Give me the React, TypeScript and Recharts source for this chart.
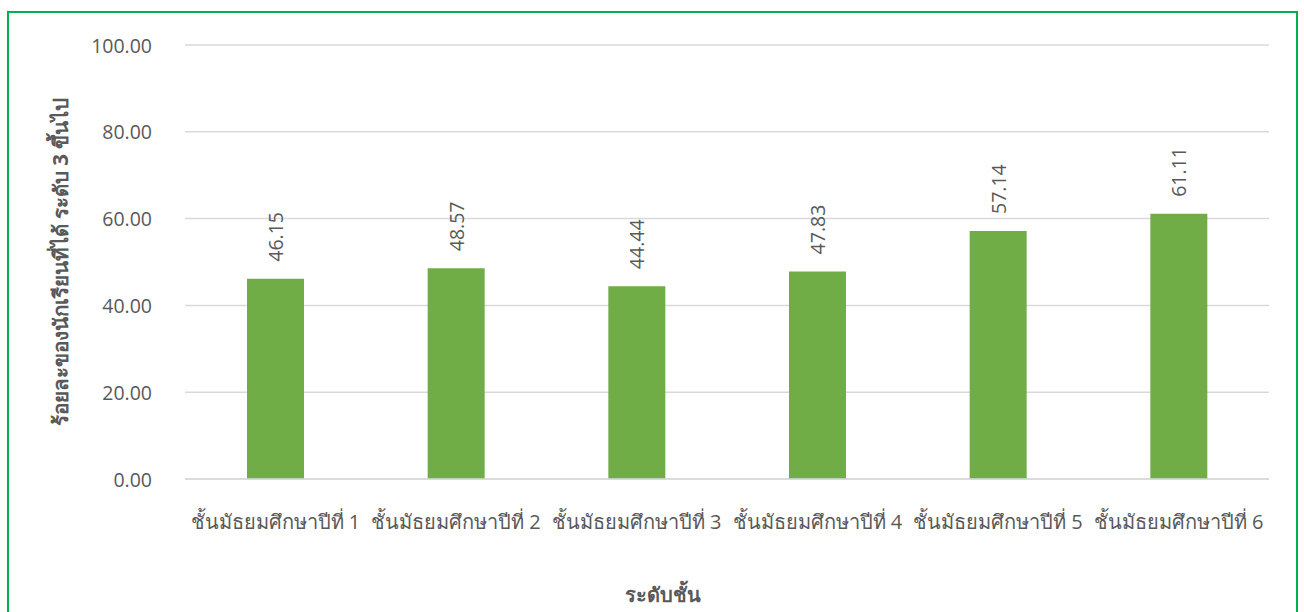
import { Bar, BarChart, CartesianGrid, LabelList, XAxis, YAxis } from 'recharts'

const grades = [
  'ชั้นมัธยมศึกษาปีที่ 1',
  'ชั้นมัธยมศึกษาปีที่ 2',
  'ชั้นมัธยมศึกษาปีที่ 3',
  'ชั้นมัธยมศึกษาปีที่ 4',
  'ชั้นมัธยมศึกษาปีที่ 5',
  'ชั้นมัธยมศึกษาปีที่ 6',
]
const percents = [46.15, 48.57, 44.44, 47.83, 57.14, 61.11]
const yTicks = [0, 20, 40, 60, 80, 100]

const yTitle = 'ร้อยละของนักเรียนที่ได้ ระดับ 3 ขึ้นไป'
const xTitle = 'ระดับชั้น'

const FONT = '"Open Sans", "Noto Sans", "DejaVu Sans", sans-serif'
const TEXT = '#595959'

const data = grades.map((grade, i) => ({ grade, value: percents[i] }))

function YTick({ x, y, payload }: any) {
  return (
    <text x={x - 25} y={y} textAnchor="end" dominantBaseline="central" fill={TEXT} fontSize={19.5} fontFamily={FONT}>
      {Number(payload.value).toFixed(2)}
    </text>
  )
}

function XTick({ x, y, payload }: any) {
  return (
    <text x={x} y={y + 42} textAnchor="middle" fill={TEXT} fontSize={20} fontFamily={FONT}>
      {payload.value}
    </text>
  )
}

function ValueLabel({ x, y, width, value }: any) {
  const cx = x + width / 2
  const ty = y - 17
  return (
    <text
      x={cx}
      y={ty}
      transform={`rotate(-90 ${cx} ${ty})`}
      textAnchor="start"
      dominantBaseline="central"
      fill={TEXT}
      fontSize={19.5}
      fontFamily={FONT}
    >
      {Number(value).toFixed(2)}
    </text>
  )
}

export default function App() {
  return (
    <div style={{ position: 'absolute', left: 0, top: 0, width: 1304, height: 612, background: '#fff', overflow: 'hidden' }}>
      <div
        style={{
          position: 'absolute',
          left: 7,
          top: 11,
          width: 1291,
          height: 640,
          border: '2px solid #00B050',
          boxSizing: 'border-box',
        }}
      />
      <BarChart
        width={1304}
        height={612}
        data={data}
        margin={{ top: 45, right: 35, left: 0, bottom: 0 }}
        style={{ position: 'absolute', left: 0, top: 0 }}
      >
        <CartesianGrid vertical={false} stroke="#D9D9D9" strokeWidth={1.5} />
        <XAxis
          dataKey="grade"
          axisLine={{ stroke: '#D9D9D9', strokeWidth: 1.5 }}
          tickLine={false}
          tick={<XTick />}
          interval={0}
          height={133}
        />
        <YAxis
          domain={[0, 100]}
          ticks={yTicks}
          axisLine={false}
          tickLine={false}
          tick={<YTick />}
          width={185}
        />
        <Bar dataKey="value" fill="#70AD47" barSize={57} isAnimationActive={false}>
          <LabelList dataKey="value" content={<ValueLabel />} />
        </Bar>
      </BarChart>
      <div
        style={{
          position: 'absolute',
          left: 60,
          top: 262,
          transform: 'translate(-50%, -50%) rotate(-90deg)',
          whiteSpace: 'nowrap',
          fontFamily: FONT,
          fontWeight: 'bold',
          fontSize: 20.5,
          color: TEXT,
        }}
      >
        {yTitle}
      </div>
      <div
        style={{
          position: 'absolute',
          left: 663,
          top: 595,
          transform: 'translate(-50%, -50%)',
          whiteSpace: 'nowrap',
          fontFamily: FONT,
          fontWeight: 'bold',
          fontSize: 20,
          color: TEXT,
        }}
      >
        {xTitle}
      </div>
    </div>
  )
}
